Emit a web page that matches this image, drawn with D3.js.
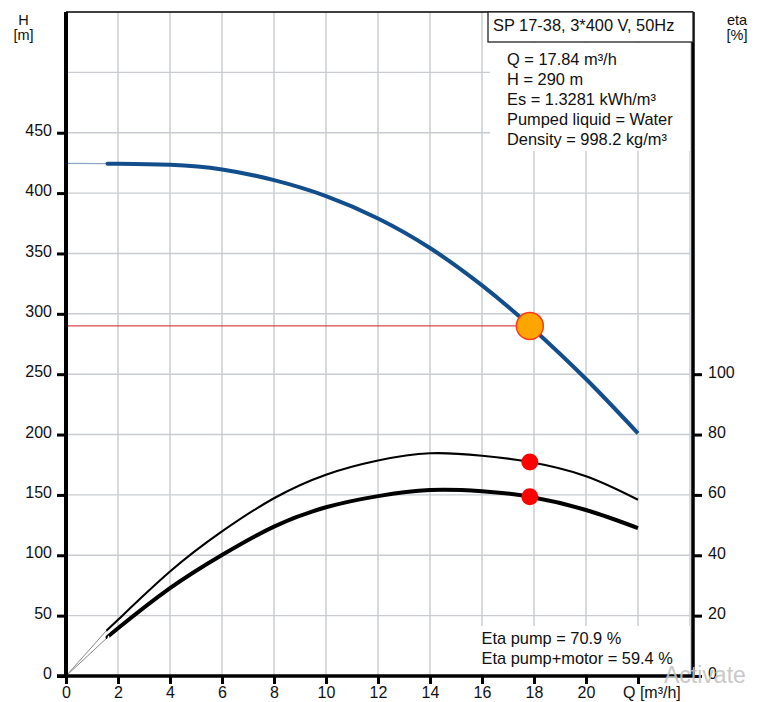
<!DOCTYPE html>
<html><head><meta charset="utf-8">
<script src="https://cdn.jsdelivr.net/npm/d3@7"></script>
<style>
html,body{margin:0;padding:0;background:#fff;}
svg{display:block;font-family:"Liberation Sans",Arial,sans-serif;}
</style></head>
<body>
<svg id="chart" width="757" height="702"></svg>
<script>
// ---- data ----
const hTicks = [0,50,100,150,200,250,300,350,400,450];
const qTicks = [0,2,4,6,8,10,12,14,16,18,20,22];
const etaTicks = [0,20,40,60,80,100];
const qH   = [1.6, 2, 4, 6, 8, 10, 12, 14, 16, 17.84, 20, 22];
const hVal = [424.4, 424.3, 423.4, 419.6, 410.7, 397.5, 379, 354.5, 323.5, 290, 246, 201];
const hShutoff = 424.6;
const qEtaP = [1.55, 2, 4, 6, 8, 10, 12, 14, 16, 17.84, 20, 22];
const etaPump = [15, 18.6, 34.6, 47.9, 58.9, 66.7, 71.4, 73.8, 73.0, 70.9, 66.2, 58.4];
const qEtaM = [1.6, 2, 4, 6, 8, 10, 12, 14, 16, 17.84, 20, 22];
const etaPumpMotor = [12.8, 15.8, 29.1, 40.1, 49.5, 55.9, 59.6, 61.6, 61.2, 59.4, 55, 49];
const dutyQ = 17.84, dutyH = 290, dutyEtaPump = 70.9, dutyEtaPM = 59.4;
const titleText = "SP 17-38, 3*400 V, 50Hz";
const infoLines = ["Q = 17.84 m³/h","H = 290 m","Es = 1.3281 kWh/m³","Pumped liquid = Water","Density = 998.2 kg/m³"];
const etaLines = ["Eta pump = 70.9 %","Eta pump+motor = 59.4 %"];

// ---- layout ----
const svg = d3.select("#chart");
const L = 66, T = 12, R = 690, B = 676, RA = 693;
const x = d3.scaleLinear().domain([0,24]).range([L,R]);
const y = d3.scaleLinear().domain([0,550]).range([B,T]);
const ye = d3.scaleLinear().domain([0,220]).range([B,T]);
const gridC = "#c8ccd0";

// grid
const g = svg.append("g");
g.selectAll("line.vg").data(d3.range(2,25,2)).join("line")
  .attr("x1",d=>x(d)).attr("x2",d=>x(d)).attr("y1",T).attr("y2",B)
  .attr("stroke",gridC).attr("stroke-width",1.4);
g.selectAll("line.hg").data(d3.range(50,550,50)).join("line")
  .attr("x1",L).attr("x2",R).attr("y1",d=>y(d)).attr("y2",d=>y(d))
  .attr("stroke",gridC).attr("stroke-width",1.4);

// white boxes behind texts
svg.append("rect").attr("x",490).attr("y",43).attr("width",200).attr("height",108).attr("fill","#fff");
svg.append("rect").attr("x",478).attr("y",626).attr("width",212).attr("height",48).attr("fill","#fff");

// curves
const line = d3.line().curve(d3.curveNatural);
const straight = d3.line();
// H thin start
svg.append("path").attr("d",straight([[x(0),y(hShutoff)],[x(qH[0]),y(hVal[0])]]))
  .attr("fill","none").attr("stroke","#8ea6c6").attr("stroke-width",1.3);
svg.append("path").attr("d",line(qH.map((q,i)=>[x(q),y(hVal[i])])))
  .attr("fill","none").attr("stroke","#134e8c").attr("stroke-width",4);
// eta thin starts
svg.append("path").attr("d",straight([[x(0),ye(0)],[x(qEtaP[0]),ye(etaPump[0])]]))
  .attr("fill","none").attr("stroke","#888").attr("stroke-width",1);
svg.append("path").attr("d",straight([[x(0),ye(0)],[x(qEtaM[0]),ye(etaPumpMotor[0])]]))
  .attr("fill","none").attr("stroke","#888").attr("stroke-width",1);
svg.append("path").attr("d",line(qEtaP.map((q,i)=>[x(q),ye(etaPump[i])])))
  .attr("fill","none").attr("stroke","#000").attr("stroke-width",2.1);
svg.append("path").attr("d",line(qEtaM.map((q,i)=>[x(q),ye(etaPumpMotor[i])])))
  .attr("fill","none").attr("stroke","#000").attr("stroke-width",4);

// duty line & points
svg.append("line").attr("x1",L).attr("x2",x(dutyQ)-13).attr("y1",y(dutyH)).attr("y2",y(dutyH))
  .attr("stroke","#cc2020").attr("stroke-width",1);
svg.append("circle").attr("cx",x(dutyQ)).attr("cy",y(dutyH)).attr("r",13.5)
  .attr("fill","#ffa500").attr("stroke","#ff3a1a").attr("stroke-width",1.5);
svg.append("circle").attr("cx",x(dutyQ)).attr("cy",ye(dutyEtaPump)).attr("r",8.5).attr("fill","#ff0000");
svg.append("circle").attr("cx",x(dutyQ)).attr("cy",ye(dutyEtaPM)).attr("r",8.5).attr("fill","#ff0000");

// frame
svg.append("line").attr("x1",L).attr("x2",RA).attr("y1",T).attr("y2",T).attr("stroke","#000").attr("stroke-width",1.5);
svg.append("line").attr("x1",RA).attr("x2",RA).attr("y1",T).attr("y2",B+1).attr("stroke","#000").attr("stroke-width",3.5);
svg.append("line").attr("x1",L).attr("x2",L).attr("y1",T).attr("y2",B+1).attr("stroke","#000").attr("stroke-width",4);
svg.append("line").attr("x1",57).attr("x2",RA+1).attr("y1",B).attr("y2",B).attr("stroke","#000").attr("stroke-width",3.5);

// axes
function styleAxis(sel){
  sel.select(".domain").remove();
  sel.selectAll(".tick line").attr("stroke","#000").attr("stroke-width",3);
  sel.selectAll(".tick text").attr("fill","#111").style("font-size","16px")
     .style("font-family","'Liberation Sans',Arial,sans-serif");
}
const ax = svg.append("g").attr("transform",`translate(${L},0)`)
  .call(d3.axisLeft(y).tickValues(hTicks).tickSize(9).tickPadding(5).tickFormat(d3.format("d")));
styleAxis(ax); ax.selectAll(".tick text").attr("dy","0.16em");
const axr = svg.append("g").attr("transform",`translate(${RA},0)`)
  .call(d3.axisRight(ye).tickValues(etaTicks).tickSize(9).tickPadding(6).tickFormat(d3.format("d")));
styleAxis(axr); axr.selectAll(".tick text").attr("dy","0.18em");
const axb = svg.append("g").attr("transform",`translate(0,${B})`)
  .call(d3.axisBottom(x).tickValues(qTicks).tickSize(8).tickPadding(3).tickFormat(d=>d===22?"":d3.format("d")(d)));
styleAxis(axb);

// labels
const t = (txt,xx,yy,opt={})=>svg.append("text").attr("x",xx).attr("y",yy).text(txt)
  .attr("fill",opt.fill||"#111").style("font-size",(opt.size||16)+"px")
  .attr("text-anchor",opt.anchor||"start");
t("Q [m³/h]",623,698);
t("H",23.5,25,{anchor:"middle",size:14.5});
t("[m]",23.5,40,{anchor:"middle",size:14.5});
t("eta",737,25,{anchor:"middle",size:14.5});
t("[%]",737,40,{anchor:"middle",size:14.5});

// title box
svg.append("rect").attr("x",488).attr("y",12).attr("width",205).attr("height",30)
  .attr("fill","#fff").attr("stroke","#222").attr("stroke-width",1.3);
t(titleText,493,31,{size:16.4});
infoLines.forEach((s,i)=>t(s,507,64.5+i*20.2,{size:16.4}));
etaLines.forEach((s,i)=>t(s,481.5,644+i*19.5,{size:16.4}));

// watermark
t("Activate",664,683,{size:23,fill:"#c4c4c4"}).attr("opacity",0.9);
</script>
</body></html>
